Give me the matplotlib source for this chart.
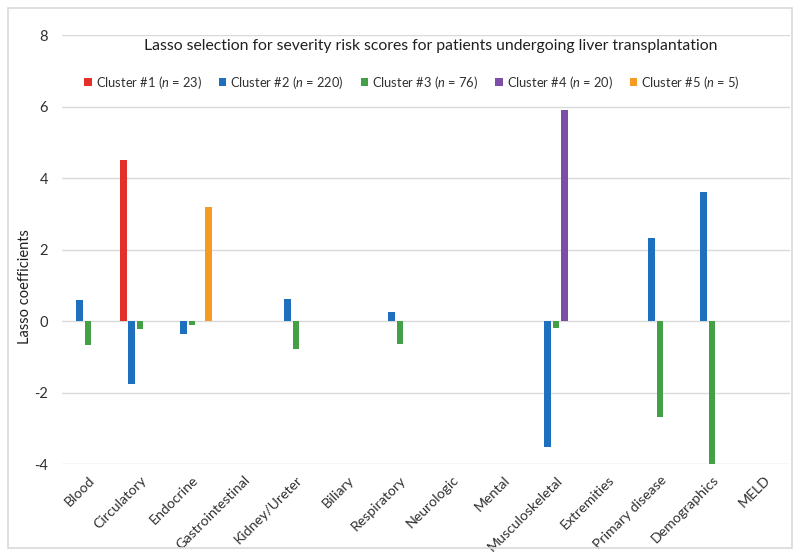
import matplotlib
matplotlib.use("Agg")
import matplotlib.pyplot as plt
import numpy as np
from matplotlib.patches import Rectangle

plt.rcParams['font.family'] = ['Lato', 'DejaVu Sans']
plt.rcParams['mathtext.fontset'] = 'custom'
plt.rcParams['mathtext.it'] = 'Lato:italic'
plt.rcParams['mathtext.rm'] = 'Lato'

categories = ["Blood", "Circulatory", "Endocrine", "Gastrointestinal", "Kidney/Ureter",
              "Biliary", "Respiratory", "Neurologic", "Mental", "Musculoskeletal",
              "Extremities", "Primary disease", "Demographics", "MELD"]
series_names = [r"Cluster #1 ($\it{n}$ = 23)", r"Cluster #2 ($\it{n}$ = 220)",
                r"Cluster #3 ($\it{n}$ = 76)", r"Cluster #4 ($\it{n}$ = 20)",
                r"Cluster #5 ($\it{n}$ = 5)"]
cluster1 = [0, 4.5, 0, 0, 0, 0, 0, 0, 0, 0, 0, 0, 0, 0]
cluster2 = [0.58, -1.76, -0.35, 0, 0.61, 0, 0.25, 0, 0, -3.53, 0, 2.32, 3.61, 0]
cluster3 = [-0.68, -0.22, -0.10, 0, -0.78, 0, -0.64, 0, 0, -0.18, 0, -2.68, -4.0, 0]
cluster4 = [0, 0, 0, 0, 0, 0, 0, 0, 0, 5.9, 0, 0, 0, 0]
cluster5 = [0, 0, 3.2, 0, 0, 0, 0, 0, 0, 0, 0, 0, 0, 0]
colors = ["#e3302b", "#1f6fbf", "#43a047", "#7b4fa6", "#f59a23"]
yticks = [-4, -2, 0, 2, 4, 6, 8]

W, H = 800, 557
fig = plt.figure(figsize=(8, 5.57), dpi=100)
ax = fig.add_axes([62 / W, 1 - 464 / H, (790 - 62) / W, (464 - 35.3) / H])

x = np.arange(len(categories))
pitch = 0.16
width = 0.13
for i, (vals, c, name) in enumerate(zip([cluster1, cluster2, cluster3, cluster4, cluster5],
                                         colors, series_names)):
    ax.bar(x + (i - 2) * pitch, vals, width=width, color=c, label=name, zorder=3)

ax.set_xlim(-0.5, len(categories) - 0.5)
ax.set_ylim(-4, 8)
ax.set_yticks(yticks)
ax.set_yticklabels([str(t) for t in yticks], fontsize=10.5, color="#303030")
ax.yaxis.grid(True, color="#d9d9d9", linewidth=1.0, zorder=0)
ax.tick_params(axis='y', length=0, pad=10)
ax.tick_params(axis='x', length=0)
for s in ax.spines.values():
    s.set_visible(False)
ax.set_xticks(x)
ax.set_xticklabels([])
for xi, lab in zip(x, categories):
    ax.annotate(lab, xy=(xi, -4), xycoords='data', xytext=(0, -7), textcoords='offset points',
                rotation=45, ha='right', va='top', rotation_mode='anchor',
                fontsize=10.2, color="#303030", annotation_clip=False)

ax.set_ylabel("Lasso coefficients", fontsize=10.5, color="#202020")
ax.yaxis.set_label_coords((32 - 62) / 728, (464 - 287) / 428.7)

fig.text(431 / W, 1 - 46 / H, "Lasso selection for severity risk scores for patients undergoing liver transplantation",
         ha='center', va='center', fontsize=11.3, color="#202020")

leg = fig.legend(loc='center', bbox_to_anchor=(412 / W, 1 - 82 / H), ncol=5, frameon=False,
                 fontsize=9.3, handlelength=0.6, handleheight=0.6, handletextpad=0.3,
                 columnspacing=1.3)
for t in leg.get_texts():
    t.set_color("#303030")

fig.patches.append(Rectangle((8 / W, 1 - 548 / H), (792 - 8) / W, (548 - 8) / H,
                             transform=fig.transFigure, fill=False, edgecolor="#d9d9d9",
                             linewidth=1.2))

fig.savefig("out.png", dpi=100)
